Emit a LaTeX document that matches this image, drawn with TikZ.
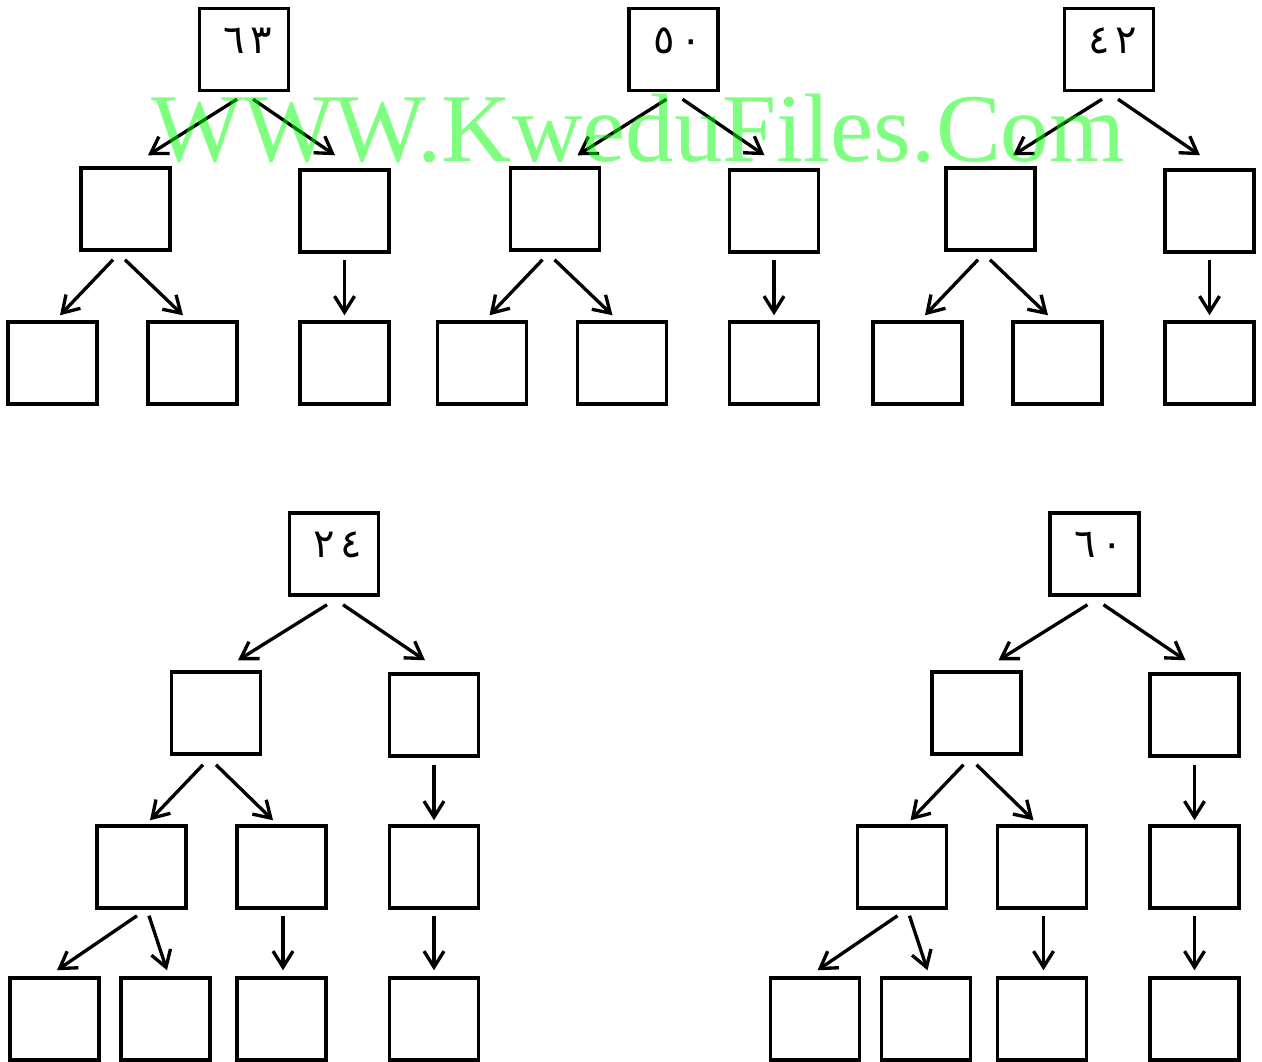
\documentclass[tikz,border=0pt]{standalone}
\usepackage{fontspec}
\setmainfont{Liberation Serif}
\newfontfamily\arabicfont[Script=Arabic]{DejaVu Sans}
\usetikzlibrary{arrows.meta,calc}
\tikzset{
  box/.style={draw, line width=2.6pt, minimum width=67pt, minimum height=61.5pt, inner sep=0pt},
  lbl/.style={inner sep=0pt, font=\arabicfont\fontsize{30}{36}\selectfont},
  arr/.style={line width=2.5pt, -{Straight Barb[length=12pt,width=15pt]}},
  wm/.style={inner sep=0pt, anchor=base west, text=green, text opacity=0.5, font=\fontsize{72.9}{80}\selectfont}
}
\newcommand\TopTree[4]{%
\begin{scope}[shift={(#1,0)}]
  \node[box] (#2r) at (244,49.5) {};
  \node[lbl] (#2l) at ($(#2r.center)+(4,-9)$) {#3\kern4pt#4};
  \node[box] (#2a) at (125.5,209) {};
  \node[box] (#2b) at (344.5,211) {};
  \node[box] (#2c) at (52.5,363) {};
  \node[box] (#2d) at (192.5,363) {};
  \node[box] (#2e) at (344.5,363) {};
  \draw[arr] ($(#2r.south)+(-7,7)$) -- ($(#2a.north)+(22.5,-11)$);
  \draw[arr] ($(#2r.south)+(9,7)$) -- ($(#2b.north)+(-9.5,-13)$);
  \draw[arr] ($(#2a.south)+(-12.5,8)$) -- ($(#2c.north)+(7.5,-5)$);
  \draw[arr] ($(#2a.south)+(-0.5,8)$) -- ($(#2d.north)+(-9.5,-5)$);
  \draw[arr] ($(#2b.south)+(0,6)$) -- ($(#2e.north)+(0,-5)$);
\end{scope}}
\newcommand\BotTree[4]{%
\begin{scope}[shift={(#1,0)}]
  \node[box] (#2r) at (334,554) {};
  \node[lbl] (#2l) at ($(#2r.center)+(4,-9)$) {#3\kern4pt#4};
  \node[box] (#2a) at (216,713) {};
  \node[box] (#2b) at (434,715) {};
  \node[box] (#2c) at (141.5,867) {};
  \node[box] (#2d) at (281.5,867) {};
  \node[box] (#2e) at (434,867) {};
  \node[box] (#2f) at (54.5,1019) {};
  \node[box] (#2g) at (165.5,1019) {};
  \node[box] (#2h) at (281.5,1019) {};
  \node[box] (#2i) at (434,1019) {};
  \draw[arr] ($(#2r.south)+(-7,8)$) -- ($(#2a.north)+(22,-10)$);
  \draw[arr] ($(#2r.south)+(9,8)$) -- ($(#2b.north)+(-9,-12)$);
  \draw[arr] ($(#2a.south)+(-13,9)$) -- ($(#2c.north)+(8.5,-4)$);
  \draw[arr] ($(#2a.south)+(0,9)$) -- ($(#2d.north)+(-8.5,-4)$);
  \draw[arr] ($(#2b.south)+(0,7)$) -- ($(#2e.north)+(0,-4)$);
  \draw[arr] ($(#2c.south)+(-4.5,6)$) -- ($(#2f.north)+(2.5,-6)$);
  \draw[arr] ($(#2c.south)+(7.5,6)$) -- ($(#2g.north)+(1.5,-6)$);
  \draw[arr] ($(#2d.south)+(1.5,6)$) -- ($(#2h.north)+(1.5,-6)$);
  \draw[arr] ($(#2e.south)+(0,6)$) -- ($(#2i.north)+(0,-6)$);
\end{scope}}
\begin{document}
\begin{tikzpicture}[x=0.75pt,y=-0.75pt]
  \useasboundingbox (0,0) rectangle (1262,1062);
  \TopTree{0}{p}{٦}{٣}
  \TopTree{429.5}{q}{٥}{٠}
  \TopTree{865}{s}{٤}{٢}
  \BotTree{0}{u}{٢}{٤}
  \BotTree{760.5}{v}{٦}{٠}
  \node[wm] (wmark) at (151,162) {WWW.KweduFiles.Com};
\end{tikzpicture}
\end{document}
